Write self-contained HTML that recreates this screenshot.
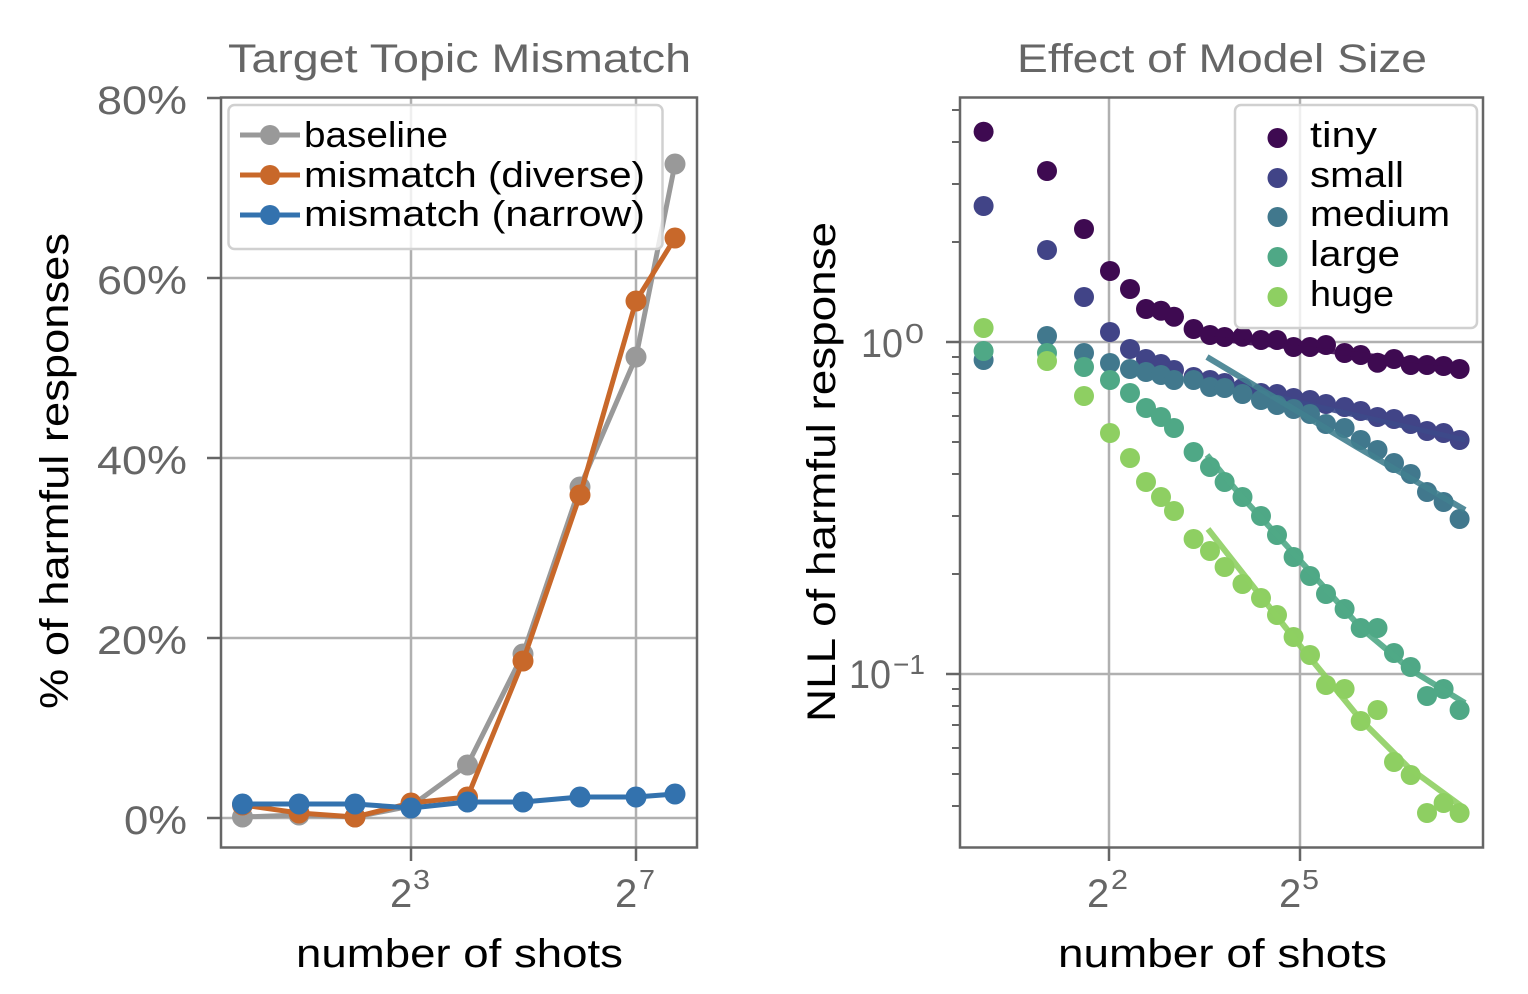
<!DOCTYPE html>
<html><head><meta charset="utf-8"><style>
html,body{margin:0;padding:0;background:#fff;}
svg{display:block;}
text{font-family:"Liberation Sans","DejaVu Sans",sans-serif;}
</style></head><body>
<svg width="1528" height="994" viewBox="0 0 1528 994" xmlns="http://www.w3.org/2000/svg">
<rect width="1528" height="994" fill="#fff"/>

<!-- ============ LEFT PLOT ============ -->
<g stroke="#b0b0b0" stroke-width="2.5">
<line x1="221" y1="278" x2="697" y2="278"/>
<line x1="221" y1="458" x2="697" y2="458"/>
<line x1="221" y1="638" x2="697" y2="638"/>
<line x1="221" y1="818" x2="697" y2="818"/>
<line x1="411" y1="97.5" x2="411" y2="847.5"/>
<line x1="636" y1="97.5" x2="636" y2="847.5"/>
</g>
<g fill="none" stroke-width="5" stroke-linejoin="round">
<polyline stroke="#999999" points="242.5,817 299,815 355,817 411,806 467.5,765 523,654 580,487 636,357 675,164"/>
</g>
<g fill="#999999">
<circle cx="242.5" cy="817" r="10.5"/><circle cx="299" cy="815" r="10.5"/><circle cx="355" cy="817" r="10.5"/><circle cx="411" cy="806" r="10.5"/><circle cx="467.5" cy="765" r="10.5"/><circle cx="523" cy="654" r="10.5"/><circle cx="580" cy="487" r="10.5"/><circle cx="636" cy="357" r="10.5"/><circle cx="675" cy="164" r="10.5"/>
</g>
<polyline fill="none" stroke="#c8682a" stroke-width="5" stroke-linejoin="round" points="242.5,805 299,813 355,817 411,803 467.5,797 523,661 580,495 636,301 675,238"/>
<g fill="#c8682a">
<circle cx="242.5" cy="805" r="10.5"/><circle cx="299" cy="813" r="10.5"/><circle cx="355" cy="817" r="10.5"/><circle cx="411" cy="803" r="10.5"/><circle cx="467.5" cy="797" r="10.5"/><circle cx="523" cy="661" r="10.5"/><circle cx="580" cy="495" r="10.5"/><circle cx="636" cy="301" r="10.5"/><circle cx="675" cy="238" r="10.5"/>
</g>
<polyline fill="none" stroke="#3372ae" stroke-width="5" stroke-linejoin="round" points="242.5,804 299,804 355,804 411,808 467.5,802 523,802 580,797 636,797 675,794"/>
<g fill="#3372ae">
<circle cx="242.5" cy="804" r="10.5"/><circle cx="299" cy="804" r="10.5"/><circle cx="355" cy="804" r="10.5"/><circle cx="411" cy="808" r="10.5"/><circle cx="467.5" cy="802" r="10.5"/><circle cx="523" cy="802" r="10.5"/><circle cx="580" cy="797" r="10.5"/><circle cx="636" cy="797" r="10.5"/><circle cx="675" cy="794" r="10.5"/>
</g>
<rect x="221" y="97.5" width="476" height="750" fill="none" stroke="#666" stroke-width="2.5"/>
<g stroke="#666" stroke-width="2.5">
<line x1="207" y1="98" x2="221" y2="98"/>
<line x1="207" y1="278" x2="221" y2="278"/>
<line x1="207" y1="458" x2="221" y2="458"/>
<line x1="207" y1="638" x2="221" y2="638"/>
<line x1="207" y1="818" x2="221" y2="818"/>
<line x1="411" y1="847" x2="411" y2="861"/>
<line x1="636" y1="847" x2="636" y2="861"/>
</g>
<g fill="#666" font-size="40">
<text x="97" y="114" textLength="90" lengthAdjust="spacingAndGlyphs">80%</text>
<text x="97" y="294" textLength="90" lengthAdjust="spacingAndGlyphs">60%</text>
<text x="97" y="474" textLength="90" lengthAdjust="spacingAndGlyphs">40%</text>
<text x="97" y="654" textLength="90" lengthAdjust="spacingAndGlyphs">20%</text>
<text x="124" y="834" textLength="63" lengthAdjust="spacingAndGlyphs">0%</text>
<text x="390" y="907">2</text><text x="413" y="889" font-size="28" textLength="17" lengthAdjust="spacingAndGlyphs">3</text>
<text x="615" y="907">2</text><text x="639" y="889" font-size="28" textLength="16" lengthAdjust="spacingAndGlyphs">7</text>
</g>
<text x="228" y="72" fill="#666" font-size="40" textLength="463" lengthAdjust="spacingAndGlyphs">Target Topic Mismatch</text>
<text x="296" y="967" fill="#000" font-size="40" textLength="327" lengthAdjust="spacingAndGlyphs">number of shots</text>
<text transform="translate(68,709) rotate(-90)" x="0" y="0" fill="#000" font-size="40" textLength="476" lengthAdjust="spacingAndGlyphs">% of harmful responses</text>
<rect x="228.5" y="105" width="434" height="144" rx="6" ry="6" fill="rgba(255,255,255,0.8)" stroke="#d0d0d0" stroke-width="2.5"/>
<line x1="240" y1="135" x2="300" y2="135" stroke="#999999" stroke-width="5"/><circle cx="270" cy="135" r="10" fill="#999999"/>
<line x1="240" y1="175" x2="300" y2="175" stroke="#c8682a" stroke-width="5"/><circle cx="270" cy="175" r="10" fill="#c8682a"/>
<line x1="240" y1="215" x2="300" y2="215" stroke="#3372ae" stroke-width="5"/><circle cx="270" cy="215" r="10" fill="#3372ae"/>
<g fill="#000" font-size="36">
<text x="304" y="147" textLength="144" lengthAdjust="spacingAndGlyphs">baseline</text>
<text x="304" y="187" textLength="341" lengthAdjust="spacingAndGlyphs">mismatch (diverse)</text>
<text x="304" y="226" textLength="341" lengthAdjust="spacingAndGlyphs">mismatch (narrow)</text>
</g>

<!-- ============ RIGHT PLOT ============ -->
<g stroke="#b0b0b0" stroke-width="2.5">
<line x1="960" y1="342" x2="1483" y2="342"/>
<line x1="960" y1="674" x2="1483" y2="674"/>
<line x1="1109" y1="97.5" x2="1109" y2="847.5"/>
<line x1="1300" y1="97.5" x2="1300" y2="847.5"/>
</g>

<g fill="#3e0a51">
<circle cx="983.6" cy="131.7" r="10"/><circle cx="1047" cy="171" r="10"/><circle cx="1084" cy="229" r="10"/><circle cx="1110" cy="271" r="10"/><circle cx="1130" cy="289" r="10"/><circle cx="1146" cy="309" r="10"/><circle cx="1161" cy="310.7" r="10"/><circle cx="1174" cy="316.7" r="10"/><circle cx="1193.6" cy="329" r="10"/><circle cx="1210" cy="335" r="10"/><circle cx="1224.6" cy="337" r="10"/><circle cx="1242.5" cy="336.7" r="10"/><circle cx="1261" cy="340" r="10"/><circle cx="1277" cy="340" r="10"/><circle cx="1293.6" cy="347" r="10"/><circle cx="1310" cy="347" r="10"/><circle cx="1326" cy="345" r="10"/><circle cx="1344.6" cy="353" r="10"/><circle cx="1360.7" cy="355" r="10"/><circle cx="1377.5" cy="362.7" r="10"/><circle cx="1394" cy="359" r="10"/><circle cx="1410.7" cy="365" r="10"/><circle cx="1427" cy="365" r="10"/><circle cx="1443.6" cy="366" r="10"/><circle cx="1459.6" cy="369" r="10"/>
</g>
<polyline fill="none" stroke="#3e0a51" stroke-opacity="0.9" stroke-width="5" points="1207,338 1465,366"/>
<g fill="#414487">
<circle cx="983.6" cy="206" r="10"/><circle cx="1047" cy="250" r="10"/><circle cx="1084" cy="297" r="10"/><circle cx="1110" cy="332" r="10"/><circle cx="1130" cy="349" r="10"/><circle cx="1146" cy="359" r="10"/><circle cx="1161" cy="364" r="10"/><circle cx="1174" cy="370" r="10"/><circle cx="1193.6" cy="377" r="10"/><circle cx="1210" cy="380" r="10"/><circle cx="1224.6" cy="383" r="10"/><circle cx="1242.5" cy="388" r="10"/><circle cx="1261" cy="393" r="10"/><circle cx="1277" cy="394" r="10"/><circle cx="1293.6" cy="398" r="10"/><circle cx="1310" cy="400" r="10"/><circle cx="1326" cy="404" r="10"/><circle cx="1344.6" cy="407" r="10"/><circle cx="1360.7" cy="411" r="10"/><circle cx="1377.5" cy="417" r="10"/><circle cx="1394" cy="419" r="10"/><circle cx="1410.7" cy="424" r="10"/><circle cx="1427" cy="431" r="10"/><circle cx="1443.6" cy="433" r="10"/><circle cx="1459.6" cy="440" r="10"/>
</g>
<polyline fill="none" stroke="#3d4a8a" stroke-opacity="0.9" stroke-width="5" points="1207,377 1297,402 1465,440"/>
<g fill="#41788d">
<circle cx="983.6" cy="360" r="10"/><circle cx="1047" cy="336" r="10"/><circle cx="1084" cy="353" r="10"/><circle cx="1110" cy="363" r="10"/><circle cx="1130" cy="369" r="10"/><circle cx="1146" cy="372" r="10"/><circle cx="1161" cy="375" r="10"/><circle cx="1174" cy="380" r="10"/><circle cx="1193.6" cy="380" r="10"/><circle cx="1210" cy="387" r="10"/><circle cx="1224.6" cy="388" r="10"/><circle cx="1242.5" cy="394" r="10"/><circle cx="1261" cy="400" r="10"/><circle cx="1277" cy="405" r="10"/><circle cx="1293.6" cy="409" r="10"/><circle cx="1310" cy="414" r="10"/><circle cx="1326" cy="424" r="10"/><circle cx="1344.6" cy="428" r="10"/><circle cx="1360.7" cy="440" r="10"/><circle cx="1377.5" cy="450" r="10"/><circle cx="1394" cy="463" r="10"/><circle cx="1410.7" cy="474" r="10"/><circle cx="1427" cy="492" r="10"/><circle cx="1443.6" cy="502" r="10"/><circle cx="1459.6" cy="519" r="10"/>
</g>
<polyline fill="none" stroke="#41808f" stroke-opacity="0.9" stroke-width="6" points="1207,357 1357,447 1465,510"/>
<g fill="#4fa886">
<circle cx="983.6" cy="351" r="10"/><circle cx="1047" cy="353" r="10"/><circle cx="1084" cy="367" r="10"/><circle cx="1110" cy="380" r="10"/><circle cx="1130" cy="393" r="10"/><circle cx="1146" cy="408" r="10"/><circle cx="1161" cy="417" r="10"/><circle cx="1174" cy="428" r="10"/><circle cx="1193.6" cy="452" r="10"/><circle cx="1210" cy="467" r="10"/><circle cx="1224.6" cy="482" r="10"/><circle cx="1242.5" cy="497" r="10"/><circle cx="1261" cy="516" r="10"/><circle cx="1277" cy="535" r="10"/><circle cx="1293.6" cy="557" r="10"/><circle cx="1310" cy="576" r="10"/><circle cx="1326" cy="594" r="10"/><circle cx="1344.6" cy="609" r="10"/><circle cx="1360.7" cy="628" r="10"/><circle cx="1377.5" cy="628" r="10"/><circle cx="1394" cy="653" r="10"/><circle cx="1410.7" cy="667" r="10"/><circle cx="1427" cy="696" r="10"/><circle cx="1443.6" cy="689" r="10"/><circle cx="1459.6" cy="710" r="10"/>
</g>
<polyline fill="none" stroke="#4fa886" stroke-opacity="0.9" stroke-width="6" stroke-linejoin="round" points="1207,455 1242,497 1277,535 1361,628 1411,670 1465,703"/>
<g fill="#8ecf62">
<circle cx="983.6" cy="328" r="10"/><circle cx="1047" cy="361" r="10"/><circle cx="1084" cy="396" r="10"/><circle cx="1110" cy="433" r="10"/><circle cx="1130" cy="458" r="10"/><circle cx="1146" cy="482" r="10"/><circle cx="1161" cy="497" r="10"/><circle cx="1174" cy="511" r="10"/><circle cx="1193.6" cy="539" r="10"/><circle cx="1210" cy="551" r="10"/><circle cx="1224.6" cy="567" r="10"/><circle cx="1242.5" cy="584" r="10"/><circle cx="1261" cy="598" r="10"/><circle cx="1277" cy="615" r="10"/><circle cx="1293.6" cy="637" r="10"/><circle cx="1310" cy="655" r="10"/><circle cx="1326" cy="685" r="10"/><circle cx="1344.6" cy="689" r="10"/><circle cx="1360.7" cy="721" r="10"/><circle cx="1377.5" cy="710" r="10"/><circle cx="1394" cy="762" r="10"/><circle cx="1410.7" cy="775" r="10"/><circle cx="1427" cy="813" r="10"/><circle cx="1443.6" cy="803" r="10"/><circle cx="1459.6" cy="813" r="10"/>
</g>
<polyline fill="none" stroke="#8ecf62" stroke-opacity="0.9" stroke-width="6" stroke-linejoin="round" points="1208,529 1293,637 1361,720 1408,767 1464,808"/>

<rect x="960" y="97.5" width="523" height="750" fill="none" stroke="#666" stroke-width="2.5"/>
<g stroke="#666" stroke-width="2.5">
<line x1="946" y1="342" x2="960" y2="342"/>
<line x1="946" y1="674" x2="960" y2="674"/>
<line x1="1109" y1="847" x2="1109" y2="861"/>
<line x1="1300" y1="847" x2="1300" y2="861"/>
</g>
<g stroke="#666" stroke-width="2">
<line x1="952" y1="110" x2="960" y2="110"/>
<line x1="952" y1="142" x2="960" y2="142"/>
<line x1="952" y1="184" x2="960" y2="184"/>
<line x1="952" y1="242" x2="960" y2="242"/>
<line x1="952" y1="357" x2="960" y2="357"/>
<line x1="952" y1="374" x2="960" y2="374"/>
<line x1="952" y1="393" x2="960" y2="393"/>
<line x1="952" y1="416" x2="960" y2="416"/>
<line x1="952" y1="442" x2="960" y2="442"/>
<line x1="952" y1="474" x2="960" y2="474"/>
<line x1="952" y1="516" x2="960" y2="516"/>
<line x1="952" y1="574" x2="960" y2="574"/>
<line x1="952" y1="689" x2="960" y2="689"/>
<line x1="952" y1="706" x2="960" y2="706"/>
<line x1="952" y1="725" x2="960" y2="725"/>
<line x1="952" y1="748" x2="960" y2="748"/>
<line x1="952" y1="774" x2="960" y2="774"/>
<line x1="952" y1="806" x2="960" y2="806"/>
</g>
<g fill="#666" font-size="40">
<text x="861" y="357" textLength="42" lengthAdjust="spacingAndGlyphs">10</text><text x="905" y="343" font-size="28" textLength="19" lengthAdjust="spacingAndGlyphs">0</text>
<text x="849" y="688" textLength="42" lengthAdjust="spacingAndGlyphs">10</text><text x="893" y="674" font-size="28" textLength="32" lengthAdjust="spacingAndGlyphs">−1</text>
<text x="1087" y="907">2</text><text x="1111" y="889" font-size="28" textLength="17" lengthAdjust="spacingAndGlyphs">2</text>
<text x="1279" y="907">2</text><text x="1302" y="889" font-size="28" textLength="17" lengthAdjust="spacingAndGlyphs">5</text>
</g>
<text x="1017" y="72" fill="#666" font-size="40" textLength="410" lengthAdjust="spacingAndGlyphs">Effect of Model Size</text>
<text x="1058" y="967" fill="#000" font-size="40" textLength="329" lengthAdjust="spacingAndGlyphs">number of shots</text>
<text transform="translate(835,722) rotate(-90)" x="0" y="0" fill="#000" font-size="40" textLength="500" lengthAdjust="spacingAndGlyphs">NLL of harmful response</text>

<rect x="1235" y="105" width="242" height="223" rx="6" ry="6" fill="rgba(255,255,255,0.8)" stroke="#d0d0d0" stroke-width="2.5"/>
<circle cx="1277.5" cy="138" r="10" fill="#3e0a51"/>
<circle cx="1277.5" cy="178" r="10" fill="#414487"/>
<circle cx="1277.5" cy="217" r="10" fill="#41788d"/>
<circle cx="1277.5" cy="257" r="10" fill="#4fa886"/>
<circle cx="1277.5" cy="297" r="10" fill="#8ecf62"/>
<g fill="#000" font-size="36">
<text x="1310" y="147" textLength="67" lengthAdjust="spacingAndGlyphs">tiny</text>
<text x="1310" y="187" textLength="94" lengthAdjust="spacingAndGlyphs">small</text>
<text x="1310" y="226" textLength="140" lengthAdjust="spacingAndGlyphs">medium</text>
<text x="1310" y="266" textLength="90" lengthAdjust="spacingAndGlyphs">large</text>
<text x="1310" y="306" textLength="84" lengthAdjust="spacingAndGlyphs">huge</text>
</g>
</svg>
</body></html>
